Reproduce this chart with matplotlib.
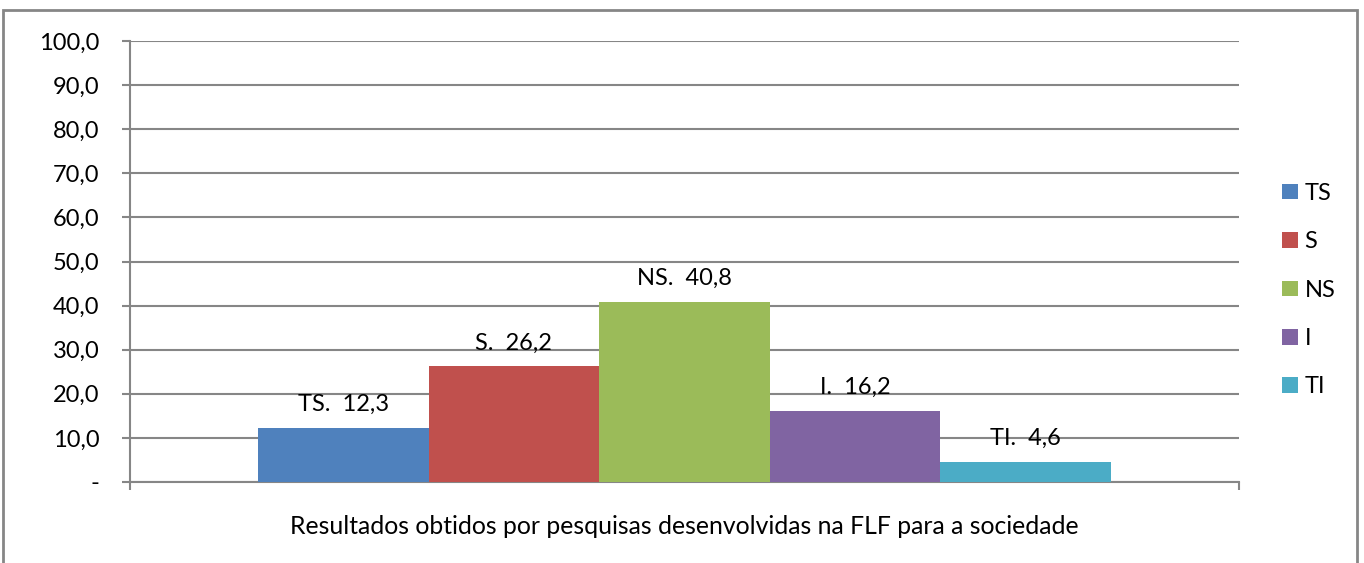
import matplotlib.pyplot as plt
from matplotlib.patches import Rectangle

series = ["TS", "S", "NS", "I", "TI"]
values = [12.3, 26.2, 40.8, 16.2, 4.6]
colors = ["#4F81BD", "#C0504D", "#9BBB59", "#8064A2", "#4BACC6"]
yticks = [0, 10, 20, 30, 40, 50, 60, 70, 80, 90, 100]
xlabel = "Resultados obtidos por pesquisas desenvolvidas na FLF para a sociedade"

plt.rcParams['font.family'] = ['Lato', 'DejaVu Sans']
grey = "#868686"
fs = 17

fig = plt.figure(figsize=(13.64, 5.63), dpi=100)
ax = fig.add_axes([130 / 1364, 1 - 482 / 563, 1109 / 1364, 441 / 563])

# excel style: gap width 150% -> one category holds 6.5 bar widths
w = 1 / 6.5
for i, (name, v, c) in enumerate(zip(series, values, colors)):
    x = (i - 2) * w
    ax.bar(x, v, width=w, color=c, label=name, zorder=3)
    txt = f"{name}.  " + f"{v:.1f}".replace(".", ",")
    ax.annotate(txt, (x, v), xytext=(0, 17), textcoords="offset points",
                ha="center", va="center", fontsize=fs, zorder=4)

ax.set_xlim(-0.5, 0.5)
ax.set_ylim(0, 100)
ax.set_yticks(yticks)
ax.set_yticklabels(["-" if t == 0 else f"{t:.1f}".replace(".", ",") for t in yticks],
                   fontsize=fs)
ax.set_xticks([-0.5, 0.5])
ax.set_xticklabels([])
ax.grid(axis="y", color=grey, linewidth=1.5, zorder=0)
for s in ["top", "right"]:
    ax.spines[s].set_visible(False)
for s in ["left", "bottom"]:
    ax.spines[s].set_color(grey)
    ax.spines[s].set_linewidth(1.5)
ax.tick_params(axis="both", color=grey, width=1.5, length=6)
ax.tick_params(axis="y", pad=16)
ax.set_xlabel(xlabel, fontsize=17.8, labelpad=14)

leg = ax.legend(loc="center left", bbox_to_anchor=(1.02, 0.435), frameon=False,
                fontsize=fs, handlelength=0.64, handleheight=0.64,
                handletextpad=0.3, labelspacing=1.16)

fig.add_artist(Rectangle((3 / 1364, -0.05), 1354 / 1364, 1.05 - 10 / 563,
                         transform=fig.transFigure, fill=False,
                         edgecolor=grey, linewidth=2))

fig.savefig("out.png", dpi=100)
